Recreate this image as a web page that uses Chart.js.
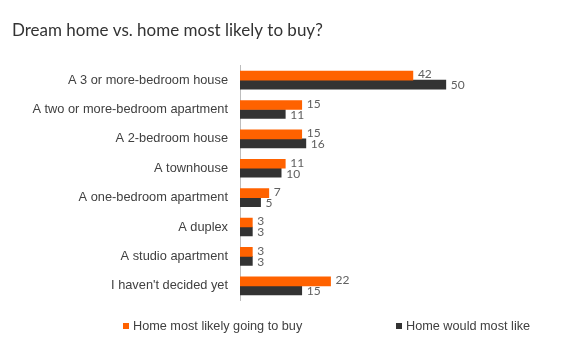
<!DOCTYPE html>
<html>
<head>
<meta charset="utf-8">
<script src="https://cdn.jsdelivr.net/npm/chart.js@4"></script>
<style>
html,body{margin:0;padding:0;background:#fff;}
#wrap{width:580px;height:352px;position:relative;}
</style>
</head>
<body>
<div id="wrap"><canvas id="c" width="580" height="352"></canvas></div>
<script>
const titleText = 'Dream home vs. home most likely to buy?';
const categories = [
  'A 3 or more-bedroom house',
  'A two or more-bedroom apartment',
  'A 2-bedroom house',
  'A townhouse',
  'A one-bedroom apartment',
  'A duplex',
  'A studio apartment',
  "I haven't decided yet"
];
const likelyBuy = [42, 15, 15, 11, 7, 3, 3, 22];
const wouldLike = [50, 11, 16, 10, 5, 3, 3, 15];
const seriesNames = ['Home most likely going to buy', 'Home would most like'];

const valueLabels = {
  id: 'valueLabels',
  afterDatasetsDraw(chart) {
    const ctx = chart.ctx;
    ctx.save();
    ctx.font = '12px Lato, "DejaVu Sans", sans-serif';
    ctx.fillStyle = '#606060';
    ctx.textAlign = 'left';
    ctx.textBaseline = 'middle';
    chart.data.datasets.forEach((ds, di) => {
      const meta = chart.getDatasetMeta(di);
      meta.data.forEach((el, i) => {
        const off = di === 0 ? -1 : 1;
        ctx.fillText(String(ds.data[i]), el.x + 5, el.y + off);
      });
    });
    ctx.restore();
  }
};

const customLegend = {
  id: 'customLegend',
  afterDraw(chart) {
    const ctx = chart.ctx;
    ctx.save();
    ctx.font = '12.7px "Liberation Sans", Arial, sans-serif';
    ctx.textBaseline = 'middle';
    const xs = [123, 396];
    const y = 326;
    chart.data.datasets.forEach((ds, di) => {
      ctx.fillStyle = ds.backgroundColor;
      ctx.fillRect(xs[di], y - 3, 6, 6);
      ctx.fillStyle = '#404040';
      ctx.fillText(ds.label, xs[di] + 10, y);
    });
    ctx.restore();
  }
};

new Chart(document.getElementById('c'), {
  type: 'bar',
  data: {
    labels: categories,
    datasets: [
      { label: seriesNames[0], data: likelyBuy, backgroundColor: '#ff6200', borderWidth: 0 },
      { label: seriesNames[1], data: wouldLike, backgroundColor: '#333333', borderWidth: 0 }
    ]
  },
  options: {
    indexAxis: 'y',
    responsive: false,
    animation: false,
    layout: { padding: { left: 12, right: 93, top: 0, bottom: 51.5 } },
    datasets: { bar: { barThickness: 9 } },
    plugins: {
      legend: { display: false },
      tooltip: { enabled: false },
      title: {
        display: true,
        text: titleText,
        align: 'start',
        color: '#333333',
        font: { family: 'Lato, "Open Sans", sans-serif', size: 17, weight: 'normal' },
        padding: { top: 20, bottom: 25 }
      }
    },
    scales: {
      x: { display: false, min: 0, max: 60 },
      y: {
        afterFit(scale) { scale.width = 228; },
        grid: { display: false, drawTicks: false },
        border: { display: true, color: '#bdbdbd', width: 1 },
        ticks: {
          color: '#404040',
          padding: 12,
          font: { family: '"Liberation Sans", Arial, sans-serif', size: 12.8 }
        }
      }
    }
  },
  plugins: [valueLabels, customLegend]
});
</script>
</body>
</html>
